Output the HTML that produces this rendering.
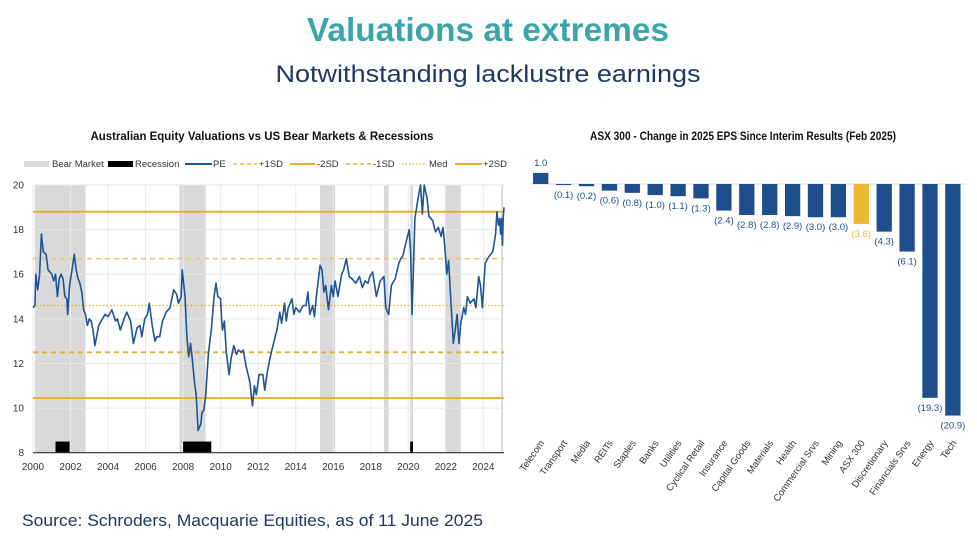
<!DOCTYPE html>
<html><head><meta charset="utf-8"><style>
html,body{margin:0;padding:0;background:#fff;}
svg{display:block;font-family:"Liberation Sans",sans-serif;}
</style></head><body>
<svg id="s" width="977" height="540" viewBox="0 0 977 540">
<text x="488" y="41" text-anchor="middle" font-size="33" font-weight="bold" fill="#3aa6a9" textLength="362" lengthAdjust="spacingAndGlyphs">Valuations at extremes</text>
<text x="488" y="82" text-anchor="middle" font-size="24" fill="#1f3864" textLength="425" lengthAdjust="spacingAndGlyphs">Notwithstanding lacklustre earnings</text>
<text x="22" y="526" font-size="17" fill="#1f3864" textLength="461" lengthAdjust="spacingAndGlyphs">Source: Schroders, Macquarie Equities, as of 11 June 2025</text>

<g id="left">
<text x="262" y="140" text-anchor="middle" font-size="12" font-weight="bold" fill="#111" textLength="343" lengthAdjust="spacingAndGlyphs">Australian Equity Valuations vs US Bear Markets &amp; Recessions</text>
<g font-size="9.5" fill="#333">
<rect x="24" y="161" width="25" height="6" fill="#d9d9d9"/><text x="52" y="167">Bear Market</text>
<rect x="108" y="161" width="25" height="6" fill="#000"/><text x="135" y="167">Recession</text>
<line x1="185" y1="164" x2="212" y2="164" stroke="#1f5597" stroke-width="2"/><text x="213" y="167">PE</text>
<line x1="233" y1="164" x2="257" y2="164" stroke="#f0c040" stroke-width="1.5" stroke-dasharray="4,3"/><text x="259" y="167">+1SD</text>
<line x1="290" y1="164" x2="315" y2="164" stroke="#e8b030" stroke-width="2"/><text x="317" y="167">-2SD</text>
<line x1="346" y1="164" x2="371" y2="164" stroke="#e8b030" stroke-width="1.5" stroke-dasharray="4,3"/><text x="373" y="167">-1SD</text>
<line x1="402" y1="164" x2="427" y2="164" stroke="#e8b030" stroke-width="1.2" stroke-dasharray="1.5,2"/><text x="429" y="167">Med</text>
<line x1="455" y1="164" x2="482" y2="164" stroke="#e8b030" stroke-width="2"/><text x="483" y="167">+2SD</text>
</g>
<g id="lg"></g>
</g>

<g id="right">
<text x="743" y="140" text-anchor="middle" font-size="12" font-weight="bold" fill="#111" textLength="306" lengthAdjust="spacingAndGlyphs">ASX 300 - Change in 2025 EPS Since Interim Results (Feb 2025)</text>
<g id="rg"></g>
</g>
</svg>
<script>
// ---- Left chart data ----
const peDates=[2000.0,2000.1,2000.15,2000.25,2000.35,2000.45,2000.55,2000.7,2000.8,2001.0,2001.1,2001.2,2001.3,2001.4,2001.5,2001.6,2001.7,2001.8,2001.85,2001.95,2002.1,2002.2,2002.3,2002.4,2002.5,2002.6,2002.7,2002.8,2002.9,2003.0,2003.1,2003.2,2003.3,2003.5,2003.7,2003.85,2004.0,2004.2,2004.4,2004.5,2004.65,2004.9,2005.0,2005.2,2005.35,2005.55,2005.7,2005.8,2005.95,2006.1,2006.2,2006.35,2006.5,2006.6,2006.75,2006.9,2007.1,2007.3,2007.5,2007.65,2007.75,2007.9,2007.95,2008.1,2008.2,2008.3,2008.4,2008.5,2008.6,2008.7,2008.8,2008.95,2009.0,2009.1,2009.2,2009.35,2009.5,2009.65,2009.75,2009.85,2010.0,2010.05,2010.1,2010.2,2010.3,2010.45,2010.55,2010.7,2010.85,2010.95,2011.1,2011.2,2011.35,2011.55,2011.7,2011.8,2011.9,2012.05,2012.25,2012.35,2012.5,2012.7,2012.85,2013.0,2013.15,2013.25,2013.4,2013.5,2013.6,2013.8,2013.9,2014.0,2014.2,2014.4,2014.55,2014.65,2014.75,2014.9,2015.0,2015.1,2015.3,2015.4,2015.5,2015.6,2015.75,2015.9,2016.0,2016.1,2016.25,2016.45,2016.55,2016.7,2016.85,2017.0,2017.2,2017.4,2017.55,2017.7,2017.85,2017.95,2018.1,2018.3,2018.5,2018.7,2018.8,2018.95,2019.1,2019.3,2019.5,2019.6,2019.7,2019.9,2020.05,2020.12,2020.2,2020.35,2020.5,2020.65,2020.75,2020.85,2021.0,2021.1,2021.3,2021.45,2021.6,2021.75,2021.85,2021.95,2022.05,2022.15,2022.25,2022.4,2022.5,2022.6,2022.7,2022.8,2022.95,2023.05,2023.15,2023.3,2023.5,2023.6,2023.75,2023.85,2023.95,2024.1,2024.3,2024.5,2024.65,2024.72,2024.8,2024.87,2024.92,2024.97,2025.02,2025.06,2025.1];
const peValues=[14.5,14.6,16.0,15.3,16.0,17.8,17.0,16.9,16.2,16.0,15.7,16.0,15.0,15.8,16.0,15.8,15.0,14.9,14.2,15.5,16.3,16.9,16.2,15.8,15.6,15.2,14.4,14.2,13.7,14.0,13.9,13.5,12.8,13.7,14.0,14.2,14.1,14.4,13.9,14.0,13.5,14.1,14.3,13.9,12.9,13.6,13.7,13.2,14.0,14.2,14.7,13.7,13.0,13.2,13.2,13.9,14.3,14.5,15.3,15.1,14.7,15.0,16.2,15.0,13.2,12.3,12.9,12.1,11.2,10.5,9.0,9.3,9.8,9.9,10.5,12.5,13.5,15.0,15.6,15.0,14.9,14.0,13.5,13.9,12.5,11.5,12.2,12.8,12.4,12.6,12.5,12.6,11.9,11.2,10.1,11.0,10.6,11.5,11.5,10.8,11.7,12.5,13.0,13.5,14.3,13.8,14.7,13.9,14.5,14.9,14.2,14.5,14.3,14.6,14.6,15.2,14.2,14.6,14.1,15.0,16.4,16.2,15.2,15.5,14.4,15.5,15.0,15.7,15.0,16.0,16.2,16.7,15.9,15.8,15.6,15.9,15.4,15.7,15.6,15.9,16.1,15.0,15.7,15.9,14.5,14.2,15.5,15.8,16.5,16.7,16.8,17.5,18.0,17.0,14.2,18.5,19.3,20.0,18.7,20.0,19.4,18.6,18.4,17.9,18.1,17.7,18.1,17.2,16.0,16.6,15.1,12.9,13.5,14.2,12.9,13.8,14.5,14.2,15.0,14.7,14.9,14.5,15.9,15.5,14.5,16.5,16.8,17.0,17.8,18.8,18.2,18.5,17.8,18.5,17.3,18.5,19.0];
const bandLevels=[18.8,16.7,14.6,12.5,10.45];
const bandNames=['plus-2sd-line','plus-1sd-line','median-line','minus-1sd-line','minus-2sd-line'];
const bearStarts=[2000.1,2007.8,2015.3,2018.7,2020.1,2021.95,2024.95];
const bearEnds=[2002.8,2009.2,2016.1,2018.95,2020.25,2022.8,2025.05];
const recStarts=[2001.2,2008.0,2020.1];
const recEnds=[2001.95,2009.5,2020.25];
const yTicks=[8,10,12,14,16,18,20];
const xTicks=[2000,2002,2004,2006,2008,2010,2012,2014,2016,2018,2020,2022,2024];
// ---- Right chart data ----
const sectors=['Telecom','Transport','Media','REITs','Staples','Banks','Utilities','Cyclical Retail','Insurance','Capital Goods','Materials','Health','Commercial Srvs','Mining','ASX 300','Discretionary','Financials Srvs','Energy','Tech'];
const epsChange=[1.0,-0.1,-0.2,-0.6,-0.8,-1.0,-1.1,-1.3,-2.4,-2.8,-2.8,-2.9,-3.0,-3.0,-3.6,-4.3,-6.1,-19.3,-20.9];
const epsLabels=['1.0','(0.1)','(0.2)','(0.6)','(0.8)','(1.0)','(1.1)','(1.3)','(2.4)','(2.8)','(2.8)','(2.9)','(3.0)','(3.0)','(3.6)','(4.3)','(6.1)','(19.3)','(20.9)'];

const NS='http://www.w3.org/2000/svg';
function mk(p,t,a){const e=document.createElementNS(NS,t);for(const k in a)e.setAttribute(k,a[k]);p.appendChild(e);return e;}

// Left chart
const lg=document.getElementById('lg');
const X0=33,X1=504,Y0=185,Y1=452.7;
const xs=y=>X0+(y-2000)/(2025.1-2000)*(X1-X0);
const ys=v=>Y1-(v-8)/12*(Y1-Y0);
for(let i=0;i<bearStarts.length;i++){
  const r=mk(lg,'rect',{x:xs(bearStarts[i]),y:Y0,width:xs(bearEnds[i])-xs(bearStarts[i]),height:Y1-Y0,fill:'#d9d9d9'});
  
  
}
for(const v of yTicks){
  const l=mk(lg,'line',{x1:X0,x2:X1,y1:ys(v),y2:ys(v),stroke:'#e6e6e6','stroke-width':1});
  
  
  const t=mk(lg,'text',{x:24,y:ys(v)+3.5,'text-anchor':'end','font-size':'10',fill:'#333'});
  t.textContent=v;
  
  
}
for(const v of xTicks){
  const l=mk(lg,'line',{x1:xs(v),x2:xs(v),y1:Y0,y2:Y1,stroke:'#eaeaea','stroke-width':1});
  
  
  const t=mk(lg,'text',{x:xs(v),y:470,'text-anchor':'middle','font-size':'10',fill:'#333'});
  t.textContent=v;
  
  
}
for(let i=0;i<recStarts.length;i++){
  const r=mk(lg,'rect',{x:xs(recStarts[i]),y:ys(8.5),width:xs(recEnds[i])-xs(recStarts[i]),height:ys(8)-ys(8.5),fill:'#000'});
  
  
}
const styles=[{w:2,d:''},{w:1.5,d:'5,4'},{w:1.2,d:'1.5,2'},{w:1.8,d:'5,4'},{w:1.8,d:''}];
bandLevels.forEach((v,i)=>{
  const a={x1:X0,x2:X1,y1:ys(v),y2:ys(v),stroke:i==1?'#f2c55a':'#e8b030','stroke-width':styles[i].w};
  if(styles[i].d)a['stroke-dasharray']=styles[i].d;
  const l=mk(lg,'line',a);
  
  
});
const ax=mk(lg,'line',{x1:X0,x2:X1,y1:Y1,y2:Y1,stroke:'#333','stroke-width':1.2});


const pts=peDates.map((d,i)=>xs(d).toFixed(1)+','+ys(Math.min(peValues[i],20)).toFixed(1)).join(' ');
const pl=mk(lg,'polyline',{points:pts,fill:'none',stroke:'#1f5597','stroke-width':1.6,'stroke-linejoin':'round'});



// Right chart
const rg=document.getElementById('rg');
const BASE=184,PX=11.08,C0=540.7,STEP=22.9,BW=15.3;
const yv=v=>BASE-v*PX;
const bl=mk(rg,'line',{x1:530,x2:966,y1:BASE,y2:BASE,stroke:'#d9d9d9','stroke-width':1});


sectors.forEach((s,i)=>{
  const cx=C0+i*STEP, v=epsChange[i];
  const col=s==='ASX 300'?'#f0b732':'#1f4e8c';
  const top=Math.min(yv(v),BASE), h=Math.abs(yv(v)-BASE);
  const r=mk(rg,'rect',{x:cx-BW/2,y:top,width:BW,height:Math.max(h,1),fill:col});
  
  
  const ly=v>=0?yv(v)-7:yv(v)+13;
  const t=mk(rg,'text',{x:cx,y:ly,'text-anchor':'middle','font-size':'9.5',fill:col});
  t.textContent=epsLabels[i];
  
  
  const c=mk(rg,'text',{x:0,y:0,'text-anchor':'end','font-size':'9.5',fill:'#333',transform:`translate(${cx+4},${443}) rotate(-55)`});
  c.textContent=s;
  
  
});
</script>
</body></html>
